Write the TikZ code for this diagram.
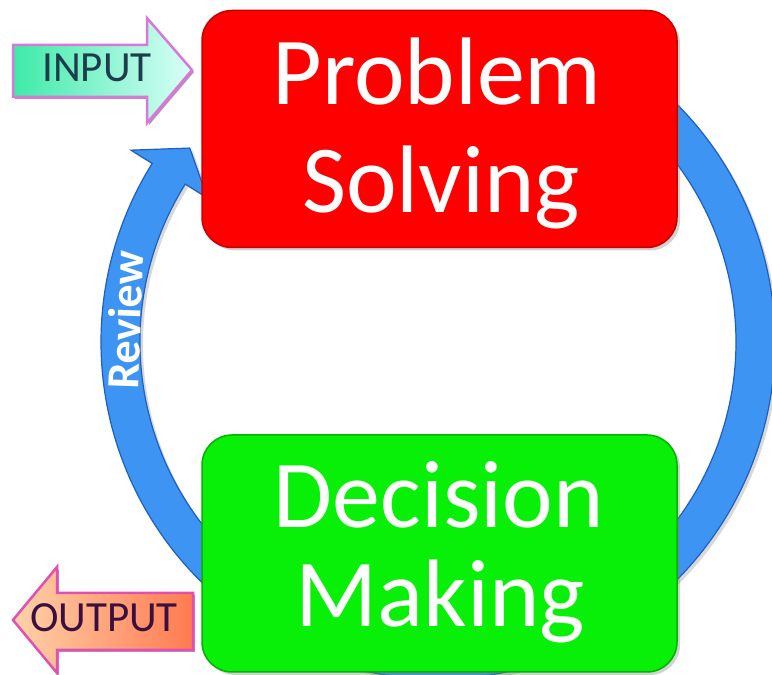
\documentclass[tikz,border=0pt]{standalone}
\usepackage{fontspec}
\setmainfont{Carlito}
\usetikzlibrary{shadows}
\definecolor{ringblue}{HTML}{3D94F2}
\definecolor{ringedge}{HTML}{1F5FBF}
\definecolor{boxred}{HTML}{FF0000}
\definecolor{boxrededge}{HTML}{C80000}
\definecolor{boxgreen}{HTML}{08F008}
\definecolor{boxgreenedge}{HTML}{00B400}
\definecolor{inleft}{HTML}{3EEAA8}
\definecolor{inright}{HTML}{DAFFF8}
\definecolor{inedge}{HTML}{D878D8}
\definecolor{intext}{HTML}{1D3D4D}
\definecolor{outleft}{HTML}{FFD2AA}
\definecolor{outright}{HTML}{FF7A50}
\definecolor{outedge}{HTML}{E050B0}
\definecolor{outtext}{HTML}{3A1040}
\definecolor{tagshadow}{HTML}{9A5AA8}
\begin{document}
\begin{tikzpicture}[x=1pt,y=1pt,
  bigbox/.style={draw, line width=1.5pt, rounded corners=30pt, inner sep=0pt,
    minimum width=475pt, minimum height=237pt,
    drop shadow={opacity=0.35, shadow xshift=3pt, shadow yshift=-3pt}},
  bigtext/.style={text=white, anchor=base, inner sep=0pt, font=\fontsize{96}{96}\selectfont},
  tagtext/.style={anchor=base, inner sep=0pt, font=\fontsize{43}{43}\selectfont},
  tagshape/.style={line width=2.5pt, line join=miter,
    drop shadow={fill=tagshadow, opacity=0.7, shadow xshift=2pt, shadow yshift=-2pt}}
]
\useasboundingbox (0,0) rectangle (772,675);
\fill[white] (0,0) rectangle (772,675);

% review ring with arrowhead
\begin{scope}[shift={(438,333)}]
\filldraw[fill=ringblue, draw=ringedge, line width=1.2pt,
  drop shadow={opacity=0.3, shadow xshift=3pt, shadow yshift=-3pt}]
  (60:337pt) arc[start angle=60, end angle=-212, radius=337pt]
  -- (-212:362pt) -- (-218:315pt) -- (-212:272pt) -- (-212:298pt)
  arc[start angle=-212, end angle=60, radius=298pt] -- cycle;
\end{scope}
\node[rotate=88, text=white, inner sep=0pt, font=\bfseries\fontsize{46}{46}\selectfont] (rev) at (125,355) {Review};

% boxes
\node[bigbox, fill=boxred, draw=boxrededge] (ps) at (439.5,546) {};
\node[bigbox, fill=boxgreen, draw=boxgreenedge] (dm) at (439.5,121.5) {};
\node[bigtext] (ps1) at (437,570) {Problem};
\node[bigtext] (ps2) at (441,462) {Solving};
\node[bigtext] (dm1) at (439,147) {Decision};
\node[bigtext] (dm2) at (440,48) {Making};

% INPUT arrow
\shade[tagshape, draw=inedge, left color=inleft, right color=inright]
  (13,630) -- (147,630) -- (147,657) -- (192,605) -- (147,552) -- (147,578) -- (13,578) -- cycle;
\node[tagtext, text=intext] (in) at (97,593) {INPUT};

% OUTPUT arrow
\shade[tagshape, draw=outedge, left color=outleft, right color=outright]
  (13,55) -- (57,108) -- (57,82) -- (193,82) -- (193,25) -- (57,25) -- (57,2) -- cycle;
\node[tagtext, text=outtext] (out) at (104,43) {OUTPUT};
\end{tikzpicture}
\end{document}
